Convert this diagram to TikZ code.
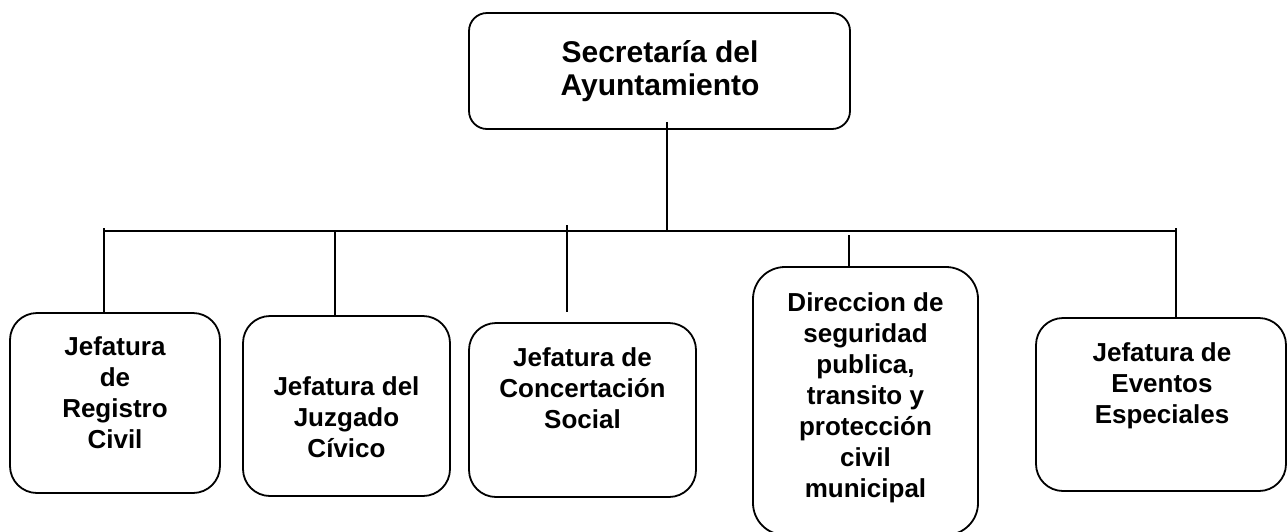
\documentclass[tikz,border=0pt]{standalone}
\usepackage{fontspec}
\setmainfont{Liberation Sans}
\newcommand{\lineas}[1]{\begin{tabular}[t]{@{}c@{}}#1\end{tabular}}
\tikzset{
  unidad/.style={draw,line width=1.8pt,rounded corners=27pt,inner sep=0pt},
  rotulo/.style={anchor=base,inner sep=0pt,font=\bfseries\fontsize{26}{31}\selectfont},
  linea/.style={line width=1.8pt}
}
\begin{document}
\begin{tikzpicture}[x=1pt,y=-1pt]
\useasboundingbox (0,0) rectangle (1287,531);
% cajas
\node[unidad,rounded corners=18pt,minimum width=381pt,minimum height=116pt] (b0) at (659.5,71) {};
\node[unidad,minimum width=210pt,minimum height=180pt] (b1) at (115,403) {};
\node[unidad,minimum width=207pt,minimum height=180pt] (b2) at (346.5,406) {};
\node[unidad,minimum width=227pt,minimum height=174pt] (b3) at (582.5,410) {};
\node[unidad,rounded corners=32pt,minimum width=225pt,minimum height=268pt] (b4) at (865.5,401) {};
\node[unidad,minimum width=250pt,minimum height=173pt] (b5) at (1161,404.5) {};
% textos
\node[rotulo,font=\bfseries\fontsize{30}{33}\selectfont] (t0) at (660,62) {\lineas{Secretaría del\\Ayuntamiento}};
\node[rotulo] (t1) at (115,355) {\lineas{Jefatura\\de\\Registro\\Civil}};
\node[rotulo] (t2) at (346.5,395) {\lineas{Jefatura del\\Juzgado\\Cívico}};
\node[rotulo] (t3) at (582.5,366) {\lineas{Jefatura de\\Concertación\\Social}};
\node[rotulo] (t4) at (865.5,311) {\lineas{Direccion de\\seguridad\\publica,\\transito y\\protección\\civil\\municipal}};
\node[rotulo] (t5) at (1162,361) {\lineas{Jefatura de\\Eventos\\Especiales}};
% lineas
\coordinate (c0) at (667,231);
\coordinate (bi) at (104,231);
\coordinate (bd) at (1176,231);
\coordinate (c1) at (104,228);
\coordinate (c2) at (335,231);
\coordinate (c3) at (567,225);
\coordinate (c4) at (849,235);
\coordinate (c5) at (1176,228);
\path[linea]
    ([yshift=8pt]b0.south -| c0) edge (c0)
    (bi) edge (bd);
\path[linea]
    (c1) edge (c1 |- b1.north)
    (c2) edge (c2 |- b2.north)
    (c3) edge ([yshift=10pt]c3 |- b3.north)
    (c4) edge (c4 |- b4.north)
    (c5) edge (c5 |- b5.north);
\end{tikzpicture}
\end{document}
